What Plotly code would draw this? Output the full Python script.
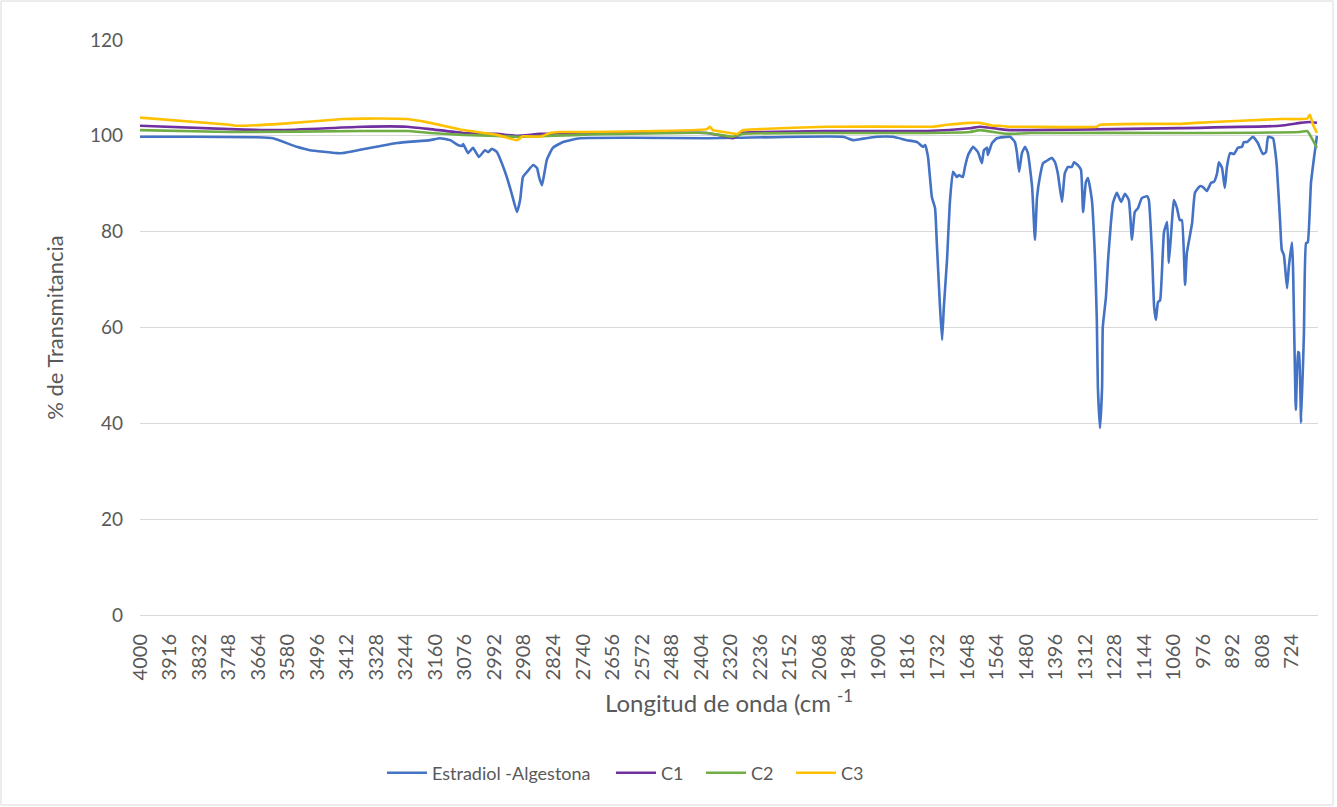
import plotly.graph_objects as go

# ---- data ----
wn_blue = [4000, 3850, 3667, 3622, 3554, 3517, 3440, 3423, 3366, 3269, 3175, 3147, 3118,
           3096, 3084, 3081, 3067, 3053, 3036, 3019, 3010, 2999, 2985, 2971, 2956, 2942,
           2928, 2919, 2911, 2899, 2882, 2871, 2865, 2857, 2851, 2843, 2826, 2797, 2749,
           2600, 2388, 2300, 2001, 1972, 1953, 1904, 1859, 1819, 1790, 1773, 1767, 1759,
           1748, 1739, 1734, 1725, 1719, 1714, 1705, 1697, 1688, 1677, 1671, 1660, 1654,
           1645, 1631, 1617, 1606, 1600, 1591, 1589, 1577, 1563, 1526, 1512, 1506, 1500,
           1492, 1483, 1475, 1463, 1455, 1449, 1441, 1432, 1421, 1407, 1398, 1390, 1378,
           1370, 1361, 1350, 1344, 1333, 1324, 1318, 1310, 1304, 1293, 1284, 1279, 1276,
           1270, 1264, 1262, 1253, 1247, 1239, 1233, 1222, 1210, 1199, 1188, 1179, 1171,
           1162, 1151, 1136, 1131, 1122, 1116, 1111, 1105, 1099, 1088, 1079, 1074, 1065,
           1060, 1051, 1043, 1037, 1028, 1023, 1008, 1000, 986, 977, 966, 954, 946, 937,
           932, 923, 915, 909, 900, 889, 878, 866, 861, 852, 835, 821, 807, 798, 792, 778,
           772, 767, 758, 753, 747, 738, 733, 724, 721, 713, 707, 704, 698, 690, 684, 679,
           670, 661, 653]
t_blue = [99.8, 99.8, 99.7, 99.5, 97.7, 97.0, 96.4, 96.4, 97.2, 98.5, 99.1, 99.5, 99.1,
          98.1, 97.9, 98.3, 96.4, 97.5, 95.6, 97.0, 96.6, 97.3, 96.6, 94.3, 91.2, 87.7,
          84.1, 86.6, 91.4, 92.5, 93.9, 93.3, 91.4, 89.7, 91.8, 95.0, 97.5, 98.7, 99.5,
          99.6, 99.5, 99.6, 99.8, 99.1, 99.3, 99.8, 99.8, 99.1, 98.7, 97.7, 98.1, 95.6,
          87.2, 84.9, 77.6, 64.3, 57.4, 64.3, 74.1, 86.0, 92.5, 91.4, 91.8, 91.4, 93.5,
          96.0, 97.7, 96.6, 94.3, 97.0, 97.5, 96.0, 98.5, 99.5, 99.8, 98.7, 96.4, 92.5,
          96.4, 97.7, 96.4, 89.3, 78.3, 87.2, 91.4, 94.3, 94.8, 95.4, 94.5, 92.2, 86.2,
          92.2, 93.5, 93.5, 94.5, 93.9, 92.9, 84.1, 90.4, 91.2, 86.6, 74.1, 61.6, 47.6,
          39.0, 47.6, 60.1, 66.4, 74.1, 81.8, 86.0, 88.1, 86.2, 87.9, 86.6, 78.3, 84.1,
          84.9, 87.0, 87.4, 86.6, 75.5, 64.3, 61.6, 65.3, 65.7, 79.9, 82.0, 73.5, 82.4,
          86.6, 84.9, 82.4, 82.4, 68.9, 75.5, 81.8, 88.1, 89.5, 89.3, 88.5, 90.2, 90.4, 92.2,
          94.5, 93.3, 89.1, 93.5, 96.4, 96.2, 97.5, 97.7, 98.7, 98.7, 99.8, 98.5, 96.2, 96.6,
          99.8, 99.5, 97.0, 93.5, 82.4, 76.2, 75.1, 68.2, 72.6, 77.8, 72.6, 42.8, 54.9,
          54.7, 40.1, 58.9, 77.6, 77.8, 90.2, 95.6, 100.0]

wn_c1 = [4000, 3744, 3602, 3366, 3241, 3175, 3081, 2985, 2928, 2863, 2749, 2388, 2331,
         2314, 2288, 2237, 2046, 1762, 1640, 1611, 1554, 1526, 1469, 1233, 1043, 758,
         701, 673, 653]
t_c1 = [102.1, 101.4, 101.2, 101.9, 101.9, 101.4, 100.6, 100.4, 100.0, 100.4, 100.6, 100.6,
        99.8, 99.5, 100.6, 100.8, 101.0, 101.0, 101.6, 101.9, 101.4, 101.2, 101.2, 101.4,
        101.6, 102.1, 102.7, 102.9, 102.7]

wn_c2 = [4000, 3744, 3366, 3241, 3175, 3081, 2985, 2928, 2749, 2388, 2314, 2288, 2046,
         1762, 1640, 1611, 1554, 1526, 1469, 1043, 701, 681, 673, 653]
t_c2 = [101.2, 100.8, 101.0, 101.0, 100.6, 100.2, 100.0, 99.8, 100.2, 100.6, 99.8, 100.4,
        100.6, 100.6, 100.8, 101.2, 100.6, 100.4, 100.6, 100.6, 100.8, 101.0, 100.2, 97.5]

wn_c3 = [4000, 3744, 3724, 3602, 3423, 3366, 3241, 3175, 3081, 2985, 2928, 2911, 2863,
         2834, 2806, 2749, 2388, 2379, 2371, 2322, 2302, 2285, 2237, 2046, 1782, 1745,
         1705, 1640, 1611, 1574, 1554, 1526, 1469, 1279, 1270, 1136, 1043, 949, 758, 681,
         673, 664, 653]
t_c3 = [103.8, 102.3, 102.1, 102.5, 103.5, 103.6, 103.5, 102.7, 101.2, 100.2, 99.1, 99.9,
        99.8, 100.6, 100.8, 100.8, 101.4, 101.9, 101.2, 100.6, 100.4, 101.2, 101.4, 101.9,
        101.9, 101.9, 102.3, 102.7, 102.7, 102.1, 102.1, 101.9, 101.9, 101.9, 102.3, 102.5,
        102.5, 102.9, 103.5, 103.6, 104.4, 102.3, 100.6]

x_tick_vals = [4000, 3916, 3832, 3748, 3664, 3580, 3496, 3412, 3328, 3244, 3160, 3076,
               2992, 2908, 2824, 2740, 2656, 2572, 2488, 2404, 2320, 2236, 2152, 2068,
               1984, 1900, 1816, 1732, 1648, 1564, 1480, 1396, 1312, 1228, 1144, 1060,
               976, 892, 808, 724]
x_tick_text = [str(v) for v in x_tick_vals]
y_tick_vals = [0, 20, 40, 60, 80, 100, 120]

series = [
    ("Estradiol -Algestona", wn_blue, t_blue, "#4472C4"),
    ("C1", wn_c1, t_c1, "#7030A0"),
    ("C2", wn_c2, t_c2, "#70AD47"),
    ("C3", wn_c3, t_c3, "#FFC000"),
]
# page x where each legend entry's line sample starts
legend_x_px = [390, 619, 709, 799]

FONT = "Lato, Carlito, Calibri, sans-serif"
GRAY = "#595959"

W, H = 1337, 807
L, R, T, B = 140, 19, 40, 192
pw, ph = W - L - R, H - T - B

fig = go.Figure()
legend_keys = ["legend", "legend2", "legend3", "legend4"]
for (name, xs, ys, col), lk in zip(series, legend_keys):
    fig.add_trace(go.Scatter(x=xs, y=ys, mode="lines", name=name, legend=lk,
                             line=dict(color=col, width=2.6, shape="spline", smoothing=0.4)))

legends = {}
for lk, px in zip(legend_keys, legend_x_px):
    legends[lk] = dict(orientation="h", x=(px - 8 - L) / pw, xanchor="left",
                       y=(615 - 773) / ph, yanchor="middle",
                       font=dict(size=18, color=GRAY), itemwidth=40,
                       bgcolor="rgba(0,0,0,0)")

fig.update_layout(
    width=W, height=H,
    margin=dict(l=L, r=R, t=T, b=B),
    paper_bgcolor="white", plot_bgcolor="white",
    font=dict(family=FONT, color=GRAY, size=18),
    showlegend=True,
    xaxis=dict(range=[4000, 650], tickmode="array", tickvals=x_tick_vals,
               ticktext=x_tick_text, tickangle=-90, showgrid=False, zeroline=False,
               showline=True, linecolor="#d9d9d9", linewidth=1, ticks="",
               ticklabelstandoff=10,
               tickfont=dict(size=20, color=GRAY),
               title=dict(text="Longitud de onda (cm <sup>-1</sup>", font=dict(size=24, color=GRAY),
                          standoff=15)),
    yaxis=dict(range=[0, 120], tickmode="array", tickvals=y_tick_vals, showgrid=True,
               gridcolor="#d9d9d9", gridwidth=1, zeroline=False, showline=False, ticks="",
               ticklabelstandoff=16, tickfont=dict(size=19, color=GRAY),
               title=dict(text="% de Transmitancia", font=dict(size=22, color=GRAY), standoff=20)),
    **legends,
)

# light outer border of the chart
fig.add_shape(type="rect", xref="paper", yref="paper",
              x0=(1 - L) / pw, x1=(1333 - L) / pw,
              y0=(615 - 805) / ph, y1=(615 - 1) / ph,
              line=dict(color="#d9d9d9", width=1), fillcolor="rgba(0,0,0,0)", layer="below")

# remove the browser's default page margin so the figure sits at (0, 0)
fig.write_html("out.html", config={"displayModeBar": False},
               post_script="document.body.style.margin='0';document.body.style.padding='0';")
